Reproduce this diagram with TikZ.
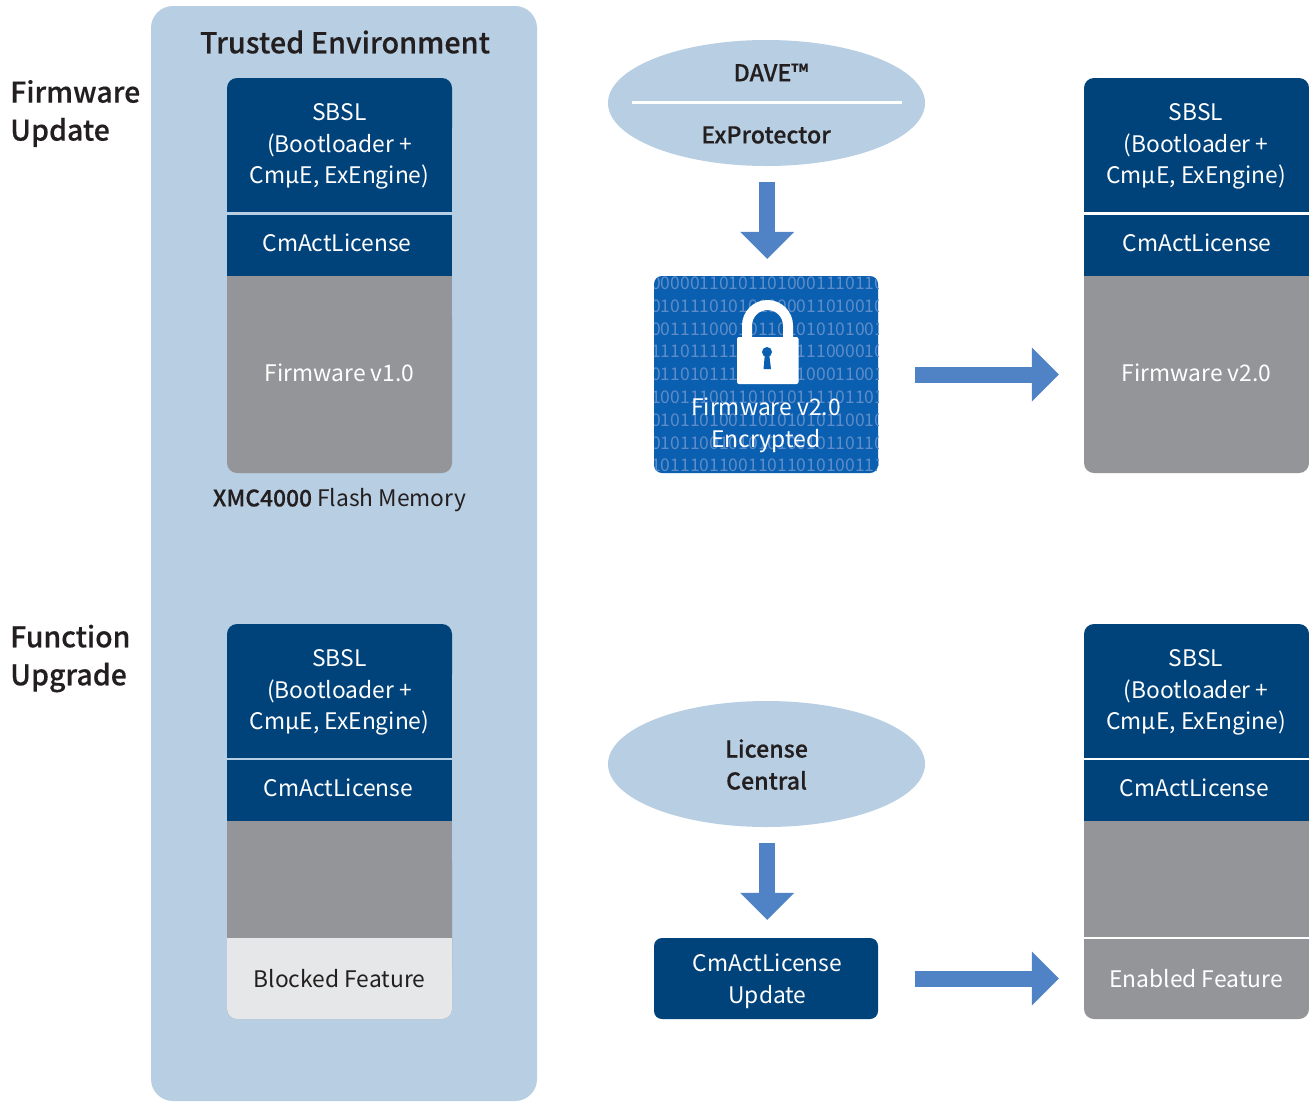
\documentclass[tikz,border=0pt]{standalone}
\usepackage{fontspec}
\setmainfont{Noto Sans CJK SC}[BoldFont={Noto Sans CJK SC Medium},BoldFeatures={FakeBold=0.35}]
\usetikzlibrary{arrows.meta,shapes.geometric}
\definecolor{panel}{HTML}{B8CEE2}
\definecolor{navy}{HTML}{00427A}
\definecolor{midgray}{HTML}{939598}
\definecolor{lightgray}{HTML}{E6E7E8}
\definecolor{arrowblue}{HTML}{5083C5}
\definecolor{encblue}{HTML}{0A5FB0}
\definecolor{bitblue}{HTML}{5E8CC8}
\definecolor{ink}{HTML}{231F20}
\tikzset{
 wt/.style={text=white,font=\fontsize{22.8}{31.7}\selectfont,align=center,inner sep=0pt},
 dk/.style={text=ink,font=\fontsize{22.8}{32}\selectfont,align=center,inner sep=0pt},
 side/.style={text=ink,font=\fontsize{28.5}{38}\selectfont\bfseries,align=left,inner sep=0pt,anchor=west},
 oval/.style={ellipse,fill=panel,minimum width=317pt,minimum height=126pt,inner sep=0pt},
 ovaltext/.style={text=ink,font=\fontsize{23.2}{32}\selectfont\bfseries,align=center,inner sep=0pt},
 bits/.style={text=bitblue,font=\fontsize{17.5}{18}\selectfont,inner sep=0pt,anchor=west},
 blockarrow/.style={draw=arrowblue,line width=16pt,-{Triangle[length=27pt,width=54pt,line width=0pt,fill=arrowblue]}},
 boxnode/.style={rectangle,minimum width=225pt,inner sep=0pt,draw=none},
}
\newcommand{\stackshape}[6]{% x, top, sep1 top, sep1 bottom, gray top, lower end
  \fill[navy,rounded corners=10pt] (#1,#2) -- (#1+225,#2) -- (#1+225,#2+60) -- (#1,#2+60) -- cycle;
  \fill[navy] (#1,#2+30) rectangle (#1+225,#3);
  \fill[navy] (#1,#4) rectangle (#1+225,#5);
  \fill[midgray,rounded corners=10pt] (#1,#5+30) -- (#1,#6) -- (#1+225,#6) -- (#1+225,#5+30) -- cycle;
  \fill[midgray] (#1,#5) rectangle (#1+225,#5+50);
}
\begin{document}
\begin{tikzpicture}[x=1pt,y=-1pt]
\useasboundingbox (0,0) rectangle (1309,1101);
\fill[white] (0,0) rectangle (1309,1101);
% panel
\fill[panel,rounded corners=22pt] (151,6) rectangle (537,1101);
\node[text=ink,font=\fontsize{28.8}{38}\selectfont\bfseries,inner sep=0pt] (trusted) at (345,42) {Trusted Environment};
\node[side] (fwup) at (10,113.5) {Firmware\\Update};
\node[side] (fnup) at (10,658.5) {Function\\Upgrade};
% stacks
\stackshape{227}{78}{212}{214.5}{276}{473}
\stackshape{1084}{78}{212}{214.5}{276}{473}
\stackshape{227}{624}{758}{760}{821}{1019}
\stackshape{1084}{624}{758}{760}{821}{1019}
% blocked / enabled feature
\fill[lightgray,rounded corners=10pt] (227,960) -- (227,1019) -- (452,1019) -- (452,960) -- cycle;
\fill[lightgray] (227,938) rectangle (452,980);
\fill[white] (1084,937) rectangle (1309,939);
% texts in stacks
\node[wt] (sbslA) at (339.5,146.5) {SBSL\\(Bootloader +\\CmµE, ExEngine)};
\node[wt] (licA) at (337,243) {CmActLicense};
\node[wt] (fwA) at (339.5,373) {Firmware v1.0};
\node[dk] (xmc) at (339.5,500) {\textbf{XMC4000} Flash Memory};
\node[wt] (sbslB) at (1196,146.5) {SBSL\\(Bootloader +\\CmµE, ExEngine)};
\node[wt] (licB) at (1197,243) {CmActLicense};
\node[wt] (fwB) at (1196.5,373) {Firmware v2.0};
\node[boxnode,minimum height=197pt] (targetA) at (1196.5,374.5) {};
\node[wt] (sbslC) at (339.5,692.5) {SBSL\\(Bootloader +\\CmµE, ExEngine)};
\node[wt] (licC) at (338.5,788) {CmActLicense};
\node[dk] (blocked) at (339.5,979) {Blocked Feature};
\node[wt] (sbslD) at (1196,692.5) {SBSL\\(Bootloader +\\CmµE, ExEngine)};
\node[wt] (licD) at (1194.5,788) {CmActLicense};
\node[wt] (enabled) at (1196,979) {Enabled Feature};
\node[boxnode,minimum height=81pt] (targetB) at (1196.5,978.5) {};
% DAVE ellipse
\node[oval] (dave) at (766.5,103) {};
\draw[white,line width=3.5pt] (632,102.5) -- (902,102.5);
\node[ovaltext] (davet) at (771,72.5) {DAVE™};
\node[ovaltext] (expr) at (766,135) {ExProtector};
% encrypted tile
\node[rectangle,rounded corners=8pt,fill=encblue,minimum width=224pt,minimum height=197pt,inner sep=0pt] (enc) at (766,374.5) {};
\begin{scope}
\clip[rounded corners=8pt] (654,276) rectangle (878,473);
\foreach \yy/\xx/\bitrow in {283/651/00000110101101000111011010,
 306/651/01011101010100001101001011,
 329/651/00111100010110101010100101,
 351/651/11101111101011111100001011,
 374/651/01101011101011110001100101,
 397/651/10011100110101011110110101,
 420/651/01011010011010101011001010,
 443/651/01011001010101001011011011,
 465/651/10111011001101101010011101}
 \node[bits] at (\xx,\yy) {\bitrow};
\end{scope}
% padlock
\fill[white] (742,340) -- (742,325.5) arc[start angle=180,end angle=0,radius=25.5pt] -- (793,340) -- (783,340) -- (783,325.5) arc[start angle=0,end angle=180,radius=15.5pt] -- (752,340) -- cycle;
\fill[white,rounded corners=2pt] (737,337) rectangle (798.5,384);
\fill[encblue] (767,352) circle[radius=5pt];
\fill[encblue] (765,353) -- (769,353) -- (771,369) -- (763.5,369) -- cycle;
\node[wt] (enct) at (766,425.5) {Firmware v2.0\\Encrypted};
% License Central
\node[oval] (lic) at (766.5,764) {};
\node[ovaltext] (lict) at (766.5,764.5) {License\\Central};
% update box
\node[rectangle,rounded corners=8pt,fill=navy,minimum width=224pt,minimum height=81pt,inner sep=0pt] (upd) at (766,978.5) {};
\node[wt] (updt) at (767.5,981) {CmActLicense\\Update};
% arrows
\draw[blockarrow,shorten <=16pt,shorten >=17pt] ([xshift=.7pt]dave.south) -- ([xshift=.7pt]dave.south |- enc.north);
\draw[blockarrow,shorten <=37pt,shorten >=25pt] (enc.east) -- (targetA.west);
\draw[blockarrow,shorten <=16pt,shorten >=18pt] ([xshift=.7pt]lic.south) -- ([xshift=.7pt]lic.south |- upd.north);
\draw[blockarrow,shorten <=37pt,shorten >=25pt] (upd.east) -- (targetB.west);
\end{tikzpicture}
\end{document}
